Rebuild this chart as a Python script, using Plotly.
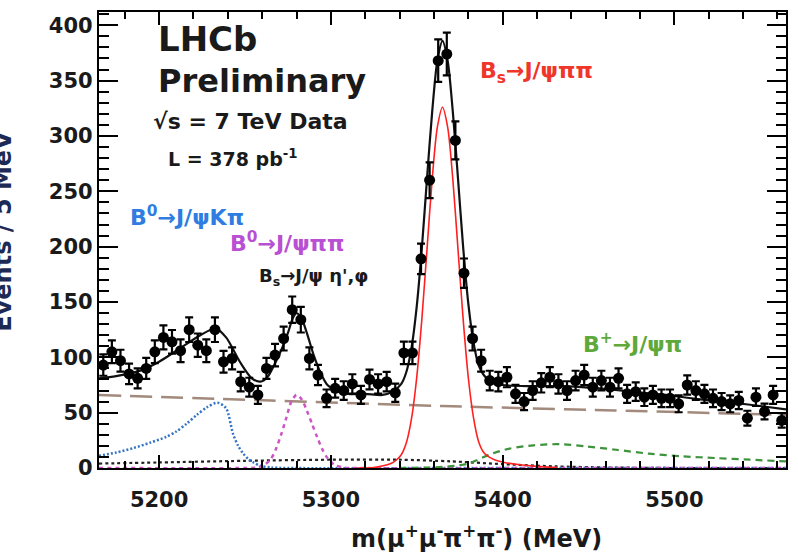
import numpy as np
import plotly.graph_objects as go

# ---- binned data: m(mu+ mu- pi+ pi-), 5 MeV bins ----
bin_centers = [5167.5 + 5 * i for i in range(80)]
counts = [
    93, 105, 97, 85, 81, 90, 105, 118, 114, 106,
    125, 111, 106, 125, 96, 99, 78, 73, 66, 90,
    102, 117, 143, 134, 99, 84, 63, 72, 70, 76,
    66, 80, 76, 78, 68, 104, 104, 189, 260, 368,
    374, 296, 176, 117, 97, 79, 78, 82, 67, 60,
    70, 77, 82, 76, 70, 79, 84, 73, 79, 73,
    81, 67, 69, 64, 66, 63, 63, 58, 75, 70,
    67, 63, 60, 58, 61, 45, 64, 51, 66, 43,
]
count_err = np.sqrt(counts)

# ---- fit model components (knots along each curve) ----
total_m = [5165, 5175, 5189, 5200, 5212, 5224, 5233, 5239, 5247, 5254, 5259, 5263,
           5267, 5271, 5275, 5278, 5280, 5283, 5286, 5290, 5294, 5298, 5303, 5310,
           5320, 5330, 5336, 5341, 5344, 5347, 5350, 5353, 5356, 5359, 5362, 5365,
           5368, 5371, 5374, 5377, 5380, 5383, 5386, 5389, 5393, 5400, 5417, 5435,
           5456, 5475, 5495, 5515, 5534, 5550, 5565]
total_v = [81, 83, 88, 96, 108, 120, 126, 118, 96, 81, 78, 82,
           93, 106, 122, 136, 140, 135, 122, 102, 86, 75, 70, 67,
           67, 66, 69, 76, 87, 109, 146, 199, 262, 322, 368, 386,
           368, 322, 262, 200, 149, 114, 93, 84, 78, 75, 74, 74,
           72, 69, 66, 62, 59, 56, 53]

bkg_m = [5165, 5265, 5365, 5465, 5565]
bkg_v = [66, 61, 56, 52, 48]

kpi_m = [5165, 5175, 5185, 5195, 5204, 5210, 5216, 5222, 5228, 5234, 5239, 5243,
         5246, 5249, 5252, 5255, 5259, 5265, 5275, 5400, 5565]
kpi_v = [11, 14, 18, 23, 28, 33, 40, 48, 55, 59, 54, 31,
         20, 13, 8, 5, 2, 0.5, 0, 0, 0]

bd_pipi_m = [5165, 5250, 5257, 5261, 5265, 5268, 5271, 5274, 5277, 5280, 5283,
             5286, 5289, 5292, 5295, 5298, 5302, 5307, 5315, 5450, 5565]
bd_pipi_v = [0, 0, 0.5, 2.5, 8, 17, 30, 45, 60, 66, 62,
             52, 40, 28, 17, 9, 3, 0.5, 0, 0, 0]

bs_pipi_m = [5315, 5325, 5329, 5335, 5338, 5341, 5344, 5347, 5350, 5353, 5356,
             5359, 5362, 5365, 5368, 5371, 5374, 5377, 5380, 5383, 5386, 5389,
             5392, 5396, 5401, 5410, 5420, 5432]
bs_pipi_v = [0, 0.4, 1.5, 4, 7, 12, 23, 45, 82, 135, 198,
             261, 308, 326, 308, 261, 198, 135, 82, 46, 24, 14,
             10, 7, 5, 3, 1.5, 0.3]

bs_etap_m = [5165, 5200, 5250, 5300, 5340, 5370, 5400, 5430, 5460, 5500, 5565]
bs_etap_v = [4, 5, 6.5, 7.5, 7.5, 6, 3.5, 1.5, 0.5, 0, 0]

bu_pi_m = [5340, 5355, 5365, 5372, 5379, 5385, 5392, 5404, 5418, 5433, 5449,
           5466, 5485, 5505, 5524, 5544, 5565]
bu_pi_v = [0, 0.3, 1, 2, 3.5, 7, 12, 17.5, 20.5, 21.5, 19.5,
           16.5, 13, 10.5, 9, 7.5, 6]

FONT = "DejaVu Sans"

fig = go.Figure()


def curve(xs, ys, color, width, dash):
    fig.add_trace(go.Scatter(
        x=xs, y=ys, mode="lines",
        line=dict(color=color, width=width, dash=dash, shape="spline", smoothing=0.8),
        hoverinfo="skip", showlegend=False,
    ))


curve(bkg_m, bkg_v, "#a28a7c", 2.5, "22px,9px")
curve(bs_etap_m, bs_etap_v, "#222222", 2.2, "3px,3px")
curve(kpi_m, kpi_v, "#3574c4", 2.5, "2px,2px")
curve(bd_pipi_m, bd_pipi_v, "#cc55c4", 2.5, "4px,4px")
curve(bu_pi_m, bu_pi_v, "#3d943d", 2.2, "7px,5px")
curve(bs_pipi_m, bs_pipi_v, "#ff2020", 1.6, "solid")
curve(total_m, total_v, "#111111", 2.2, "solid")

fig.add_trace(go.Scatter(
    x=bin_centers, y=counts, mode="markers",
    marker=dict(color="black", size=11, symbol="circle"),
    error_y=dict(type="data", array=count_err, visible=True,
                 color="black", thickness=2.2, width=4),
    hoverinfo="skip", showlegend=False,
))

labels = [
    ("LHCb", 5198.0, 388, 34, "#1a1a1a"),
    ("Preliminary", 5198.0, 350, 32, "#1a1a1a"),
    ("√s = 7 TeV Data", 5195.0, 313, 22, "#1a1a1a"),
    ("L = 378 pb<sup>-1</sup>", 5204.0, 280, 19, "#1a1a1a"),
    ("B<sup>0</sup>→J/ψKπ", 5182.0, 228, 22, "#2f7de1"),
    ("B<sup>0</sup>→J/ψππ", 5240.0, 204, 22, "#b94fd2"),
    ("B<sub>s</sub>→J/ψ η',φ", 5257.0, 173, 18, "#1a1a1a"),
    ("B<sub>s</sub>→J/ψππ", 5385.5, 357, 22, "#f0352a"),
    ("B<sup>+</sup>→J/ψπ", 5445.5, 113, 22, "#5fa83a"),
]
for text, xm, yv, size, color in labels:
    fig.add_annotation(
        x=xm, y=yv, xref="x", yref="y", text=text, showarrow=False,
        xanchor="left", yanchor="middle",
        font=dict(family=FONT, size=size, color=color, weight="bold"),
    )

# axis titles
fig.add_annotation(
    x=0.55, y=-0.152, xref="paper", yref="paper",
    text="m(μ<sup>+</sup>μ<sup>-</sup>π<sup>+</sup>π<sup>-</sup>) (MeV)",
    showarrow=False, xanchor="center", yanchor="middle",
    font=dict(family=FONT, size=24, color="#1a1a1a", weight="bold"),
)
fig.add_annotation(
    x=-0.14, y=0.52, xref="paper", yref="paper", text="Events / 5 MeV",
    textangle=-90, showarrow=False, xanchor="center", yanchor="middle",
    font=dict(family=FONT, size=24, color="#1c2a55", weight="bold"),
)

axis_common = dict(
    showline=True, linecolor="black", linewidth=2.2, mirror="allticks",
    ticks="inside", tickcolor="black", tickwidth=2,
    showgrid=False, zeroline=False,
    tickfont=dict(family=FONT, size=21, color="#1a1a1a", weight="bold"),
)

fig.update_xaxes(
    range=[5165, 5565], tick0=5200, dtick=100, ticklen=13,
    minor=dict(dtick=20, tick0=5200, ticklen=7, ticks="inside",
               tickcolor="black", tickwidth=2),
    ticklabelstandoff=12,
    **axis_common,
)
fig.update_yaxes(
    range=[0, 412], tick0=0, dtick=50, ticklen=19,
    minor=dict(dtick=10, ticklen=10, ticks="inside",
               tickcolor="black", tickwidth=2),
    ticklabelstandoff=0,
    **axis_common,
)

fig.update_layout(
    width=798, height=553,
    margin=dict(l=99, r=10, t=12, b=85),
    paper_bgcolor="white", plot_bgcolor="white",
    showlegend=False,
)

fig.write_html("out.html")
